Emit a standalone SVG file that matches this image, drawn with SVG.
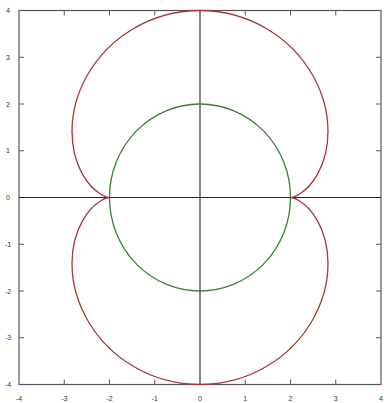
<svg xmlns="http://www.w3.org/2000/svg" width="384" height="403" viewBox="0 0 384 403">
<style>
.frame{fill:none;stroke:#555;stroke-width:1.2}
.tick{stroke:#555;stroke-width:1}
.axis{stroke:#222;stroke-width:1.1}
.lbl{font-family:"Liberation Sans",Arial,sans-serif;font-size:7px;fill:#333}
.red{fill:none;stroke:#a8353a;stroke-width:1.3}
.green{fill:none;stroke:#3d7d3d;stroke-width:1.3}
</style>
<rect width="384" height="403" fill="#fff"/>
<g id="frame">
<rect class="frame" x="19" y="10.5" width="362" height="374"/>
<g class="tick">
<path d="M64.25 384.5v-5M109.5 384.5v-5M154.75 384.5v-5M245.25 384.5v-5M290.5 384.5v-5M335.75 384.5v-5"/>
<path d="M64.25 10.5v5M109.5 10.5v5M154.75 10.5v5M245.25 10.5v5M290.5 10.5v5M335.75 10.5v5"/>
<path d="M19 57.25h5M19 104h5M19 150.75h5M19 244.25h5M19 291h5M19 337.75h5"/>
<path d="M381 57.25h-5M381 104h-5M381 150.75h-5M381 244.25h-5M381 291h-5M381 337.75h-5"/>
</g>
</g>
<g id="x-labels" class="lbl" text-anchor="middle">
<text x="19" y="401">-4</text>
<text x="64.25" y="401">-3</text>
<text x="109.5" y="401">-2</text>
<text x="154.75" y="401">-1</text>
<text x="200" y="401">0</text>
<text x="245.25" y="401">1</text>
<text x="290.5" y="401">2</text>
<text x="335.75" y="401">3</text>
<text x="381" y="401">4</text>
</g>
<g id="y-labels" class="lbl" text-anchor="middle">
<text x="8" y="13">4</text>
<text x="8" y="59.75">3</text>
<text x="8" y="106.5">2</text>
<text x="8" y="153.25">1</text>
<text x="8" y="200">0</text>
<text x="8" y="246.75">-1</text>
<text x="8" y="293.5">-2</text>
<text x="8" y="340.25">-3</text>
<text x="8" y="387">-4</text>
</g>
<g id="axes">
<line class="axis" x1="200" y1="10.5" x2="200" y2="384.5"/>
<line class="axis" x1="19" y1="197.5" x2="381" y2="197.5"/>
</g>
<g id="circle">
<ellipse class="green" cx="200" cy="197.5" rx="90.5" ry="93.5"/>
</g>
<g id="nephroid">
<path class="red" d="M290.5 197.5C290.5 197.5 293.82 197.43 299.13 194.26C304.44 191.09 311.64 184.73 317.56 174.13C323.48 163.53 327.99 148.7 327.99 131.39C327.99 114.08 323.39 94.4 313.13 76.04C302.87 57.68 286.95 40.79 267.13 28.97C247.31 17.15 223.69 10.5 200 10.5C176.31 10.5 152.69 17.15 132.87 28.97C113.05 40.79 97.13 57.68 86.87 76.04C76.61 94.4 72.01 114.08 72.01 131.39C72.01 148.7 76.52 163.53 82.44 174.13C88.36 184.73 95.56 191.09 100.87 194.26C106.18 197.43 109.5 197.5 109.5 197.5C109.5 197.5 106.18 197.57 100.87 200.74C95.56 203.91 88.36 210.27 82.44 220.87C76.52 231.47 72.01 246.3 72.01 263.61C72.01 280.92 76.61 300.6 86.87 318.96C97.13 337.32 113.05 354.21 132.87 366.03C152.69 377.85 176.31 384.5 200 384.5C223.69 384.5 247.31 377.85 267.13 366.03C286.95 354.21 302.87 337.32 313.13 318.96C323.39 300.6 327.99 280.92 327.99 263.61C327.99 246.3 323.48 231.47 317.56 220.87C311.64 210.27 304.44 203.91 299.13 200.74C293.82 197.57 290.5 197.5 290.5 197.5Z"/>
</g>
</svg>
